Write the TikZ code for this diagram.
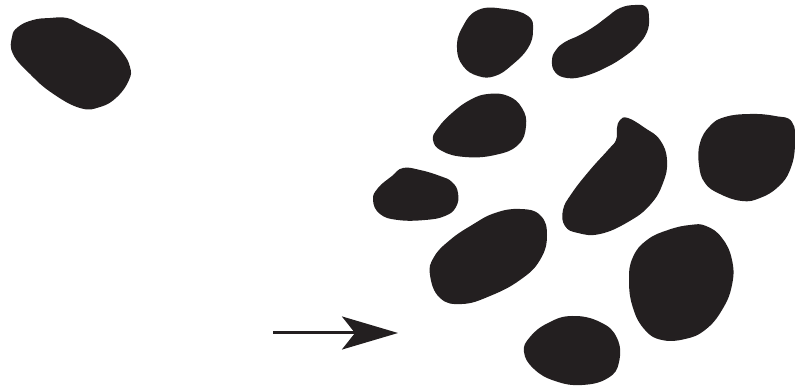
\documentclass[tikz,border=0pt]{standalone}
\usepackage{xcolor}
\usepackage{tikz}
\usetikzlibrary{arrows.meta}

\definecolor{inkblack}{HTML}{231F20}

\begin{document}
\begin{tikzpicture}[
        x=0.02cm, y=-0.02cm,
        blob/.style={
            fill=inkblack,
            draw=none
        },
        outline/.style={smooth cycle, tension=0.75},
        arrow/.style={-{Stealth[length=1.12cm, width=0.66cm, inset=0.26cm]}, line width=0.06cm, inkblack}
    ]
        \useasboundingbox (0,0) rectangle (795,388);

        % lone cell, top left
        \fill[blob] plot[outline] coordinates {(12,37) (18,27) (33,20) (50,18) (67,18) (82,25) (107,38) (122,52) (130,67) (129,80) (117,97) (100,107) (80,108) (52,93) (30,74) (13,54)};

        % cluster
        \fill[blob] plot[outline] coordinates {(478,10) (505,9) (528,16) (533,30) (528,48) (512,65) (495,76) (478,76) (463,66) (457,48) (462,28)};
        \fill[blob] plot[outline] coordinates {(552,60) (556,50) (565,42) (580,35) (595,26) (607,17) (620,8) (635,5) (646,7) (649,18) (647,32) (638,45) (625,56) (607,67) (585,76) (567,78) (555,72)};
        \fill[blob] plot[outline] coordinates {(433,140) (438,128) (452,113) (470,100) (488,94) (508,96) (522,108) (526,126) (518,145) (495,155) (465,157) (442,151)};
        \fill[blob] plot[outline] coordinates {(617,128) (620,120) (628,118) (645,128) (660,140) (667,160) (663,183) (650,205) (628,222) (600,234) (578,233) (565,226) (563,210) (572,193) (590,170) (608,150) (616,140)};
        \fill[blob] plot[outline] coordinates {(699,165) (700,143) (710,126) (725,117) (750,114) (775,116) (792,122) (795,145) (790,170) (778,187) (760,198) (742,201) (720,194) (705,183)};
        \fill[blob] plot[outline] coordinates {(373,200) (378,188) (392,176) (403,168) (420,170) (440,176) (452,182) (458,193) (456,207) (445,216) (425,220) (398,220) (380,214)};
        \fill[blob] plot[outline] coordinates {(430,275) (434,257) (450,240) (472,225) (495,213) (520,209) (540,215) (547,235) (540,260) (520,280) (490,296) (462,304) (440,298)};
        \fill[blob] plot[outline] coordinates {(629,280) (633,257) (647,240) (668,230) (690,225) (706,226) (722,238) (732,260) (732,285) (722,310) (705,330) (685,339) (662,340) (645,330) (633,308)};
        \fill[blob] plot[outline] coordinates {(524,352) (530,337) (548,323) (572,316) (600,322) (617,338) (619,362) (608,378) (582,385) (555,381) (534,369)};

        \coordinate (tail) at (273,333);
        \coordinate (head) at (398,333);
        \draw[arrow] (tail) -- (head);
    \end{tikzpicture}
\end{document}
